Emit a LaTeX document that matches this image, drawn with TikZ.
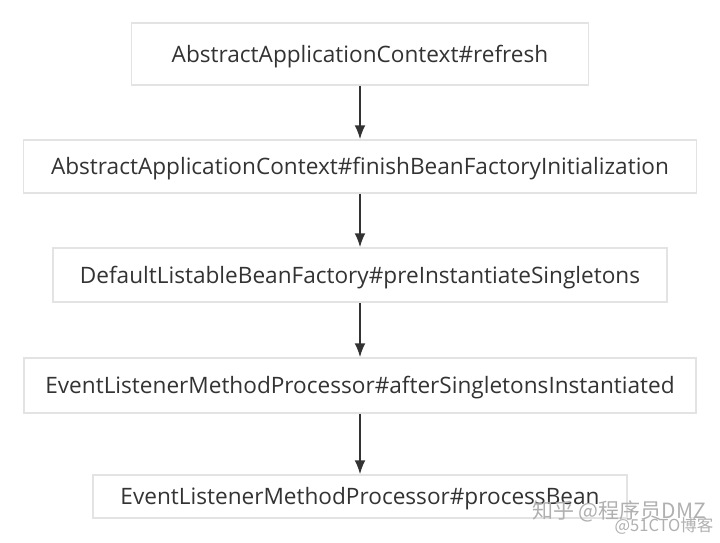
\documentclass[tikz,border=0pt]{standalone}
\usepackage{fontspec}
\setmainfont{Open Sans}
\newfontfamily\cjk{Noto Sans CJK SC}
\usepackage{xcolor}
\usetikzlibrary{arrows.meta}
\definecolor{boxline}{HTML}{E3E3E3}
\definecolor{txt}{HTML}{333333}
\definecolor{mark}{HTML}{B0B0B0}

\begin{document}
\begin{tikzpicture}[
        x=1pt, y=-1pt,
        stepbox/.style={draw=boxline, line width=1.5pt, fill=white,
            text=txt, font=\fontsize{22.6}{26}\selectfont,
            text height=16pt, text depth=0pt,
            inner sep=0pt, anchor=center},
        flow/.style={draw=txt, line width=1.8pt, -{Latex[length=14pt,width=11pt]}}
    ]
    \useasboundingbox (0,0) rectangle (720,542);
    \fill[white] (0,0) rectangle (720,542);

    \node[stepbox, minimum width=457pt, minimum height=62pt] (refresh) at (360,54)
        {AbstractApplicationContext\#refresh};
    \node[stepbox, minimum width=673pt, minimum height=53pt] (finish) at (360,166.5)
        {AbstractApplicationContext\#finishBeanFactoryInitialization};
    \node[stepbox, minimum width=614pt, minimum height=54pt] (preinst) at (360,275)
        {DefaultListableBeanFactory\#preInstantiateSingletons};
    \node[stepbox, minimum width=672pt, minimum height=55pt] (after) at (360,385.5)
        {EventListenerMethodProcessor\#afterSingletonsInstantiated};
    \node[stepbox, minimum width=534pt, minimum height=43pt] (process) at (360,496.5)
        {EventListenerMethodProcessor\#processBean};

    % 调用顺序
    \draw[flow] (refresh.south) -- (finish.north);
    \draw[flow] (finish.south) -- (preinst.north);
    \draw[flow] (preinst.south) -- (after.north);
    \draw[flow] (after.south) -- (process.north);

    % 水印
    \node[text=mark, font=\cjk\fontsize{21}{24}\selectfont, inner sep=0pt] (zhihu) at (619,511)
        {知乎 @程序员DMZ};
    \node[text=mark, font=\cjk\fontsize{16.5}{18}\selectfont, inner sep=0pt] (cto) at (664,526)
        {@51CTO博客};
\end{tikzpicture}
\end{document}
